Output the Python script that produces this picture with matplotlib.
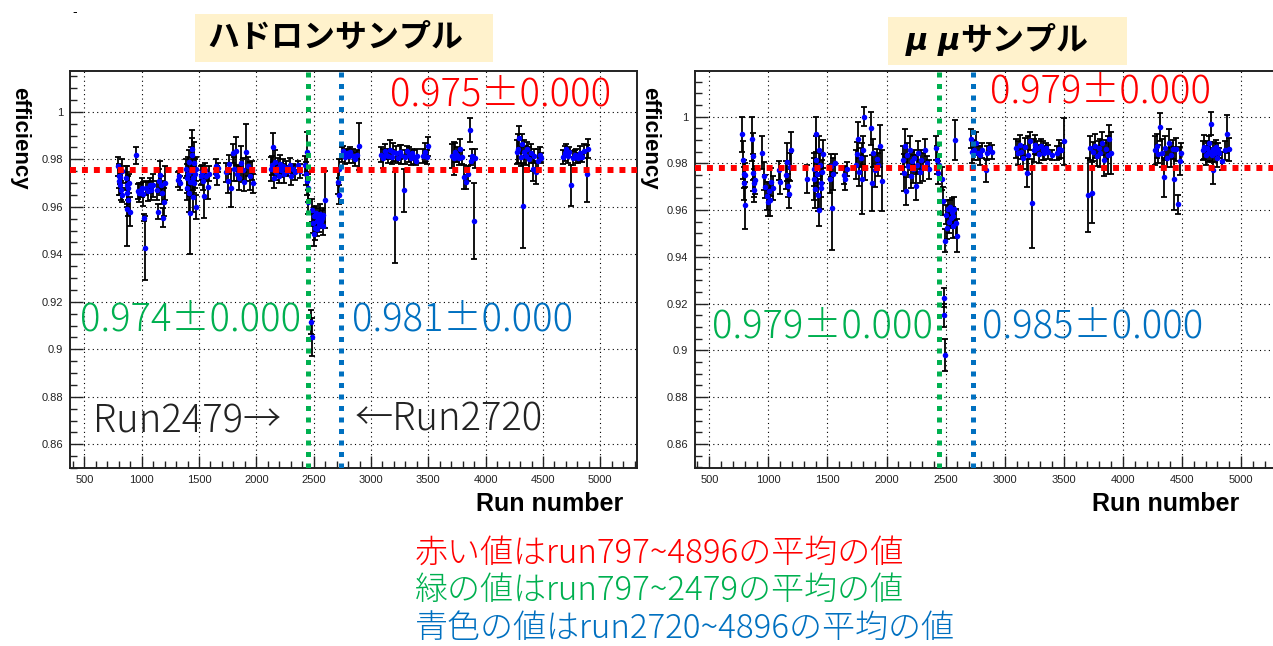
import numpy as np
import matplotlib
matplotlib.use("Agg")
import matplotlib.pyplot as plt
from matplotlib.ticker import MultipleLocator, FuncFormatter
from matplotlib.patches import Rectangle

# === DATA: hadron sample (run, efficiency, error) ===
had_run = [797, 800, 805, 810, 815, 820, 826, 830,
           862, 868, 872, 876, 880, 885, 890, 895, 950,
           965, 980, 995, 1005, 1015, 1020, 1025, 1040, 1055, 1070, 1085, 1095,
           1135, 1140, 1150, 1160, 1170, 1180, 1190, 1195, 1200,
           1315, 1322, 1330,
           1385, 1392, 1398, 1404, 1410, 1415, 1420, 1425, 1430, 1435, 1440, 1445, 1450, 1455, 1460, 1465, 1470, 1478,
           1515, 1525, 1535, 1545, 1555, 1565, 1575, 1590,
           1645, 1652, 1660, 1668,
           1735, 1750, 1765, 1780, 1795, 1805, 1820, 1835, 1850, 1865, 1880, 1895, 1910, 1925, 1945, 1960, 1975,
           2125, 2135, 2145, 2155, 2165, 2175, 2185, 2195, 2205, 2215, 2230, 2245, 2260, 2275, 2290, 2305, 2320, 2340, 2360, 2380,
           2425, 2432, 2438, 2444, 2448, 2455, 2478, 2482,
           2488, 2495, 2500, 2505, 2512, 2518, 2525, 2532, 2540, 2548, 2555, 2562, 2570, 2578, 2585, 2595,
           2715, 2720, 2725, 2745, 2760, 2775, 2790, 2805, 2820, 2840, 2860, 2875, 2895,
           3090, 3105, 3120, 3135, 3150, 3165, 3180, 3195, 3208, 3220, 3235, 3250, 3265, 3285, 3300, 3315, 3330, 3345, 3360, 3375, 3390, 3405,
           3455, 3470, 3485, 3500,
           3705, 3720, 3735, 3750, 3765, 3780, 3795, 3810, 3825, 3843, 3863, 3870, 3885, 3897, 3905,
           4270, 4285, 4295, 4305, 4315, 4325, 4335, 4350, 4365, 4380, 4395, 4410, 4425, 4440, 4455, 4470, 4485,
           4675, 4690, 4700, 4715, 4730, 4745, 4760, 4775, 4790, 4805, 4820, 4840, 4860, 4885, 4896]
had_eff = [0.977, 0.973, 0.971, 0.969, 0.9725, 0.967, 0.975, 0.965,
           0.972, 0.969, 0.966, 0.959, 0.963, 0.968, 0.970, 0.958, 0.9817,
           0.9665, 0.966, 0.967, 0.968, 0.9655, 0.9555, 0.9425, 0.968, 0.9665, 0.969, 0.967, 0.969,
           0.967, 0.958, 0.971, 0.9735, 0.969, 0.966, 0.9555, 0.962, 0.970,
           0.9715, 0.973, 0.970,
           0.976, 0.972, 0.968, 0.974, 0.979, 0.966, 0.9705, 0.9575, 0.975, 0.982, 0.9845, 0.972, 0.964, 0.9785, 0.970, 0.974, 0.960, 0.976,
           0.973, 0.9745, 0.971, 0.9645, 0.9755, 0.973, 0.9685, 0.974,
           0.974, 0.977, 0.973, 0.9765,
           0.9745, 0.971, 0.978, 0.968, 0.9825, 0.976, 0.9835, 0.974, 0.972, 0.9785, 0.9755, 0.9705, 0.983, 0.977, 0.973, 0.9755, 0.970,
           0.976, 0.9775, 0.985, 0.972, 0.979, 0.9745, 0.9765, 0.973, 0.978, 0.9755, 0.977, 0.974, 0.9765, 0.975, 0.9775, 0.973, 0.976, 0.9745, 0.9775, 0.975,
           0.9775, 0.974, 0.971, 0.983, 0.968, 0.962, 0.9115, 0.905,
           0.9585, 0.953, 0.9485, 0.956, 0.951, 0.9575, 0.954, 0.9505, 0.9555, 0.9525, 0.957, 0.954, 0.9555, 0.952, 0.9565, 0.963,
           0.9705, 0.965, 0.976, 0.982, 0.9835, 0.981, 0.9825, 0.9815, 0.983, 0.9815, 0.980, 0.982, 0.9855,
           0.982, 0.9805, 0.9835, 0.982, 0.9815, 0.984, 0.981, 0.983, 0.9555, 0.9825, 0.9805, 0.983, 0.982, 0.967, 0.981, 0.9835, 0.982, 0.9805, 0.9825, 0.981, 0.9795, 0.9815,
           0.9815, 0.983, 0.981, 0.9855,
           0.9815, 0.9805, 0.983, 0.982, 0.9805, 0.9845, 0.981, 0.9725, 0.9705, 0.974, 0.9925, 0.9795, 0.9815, 0.954, 0.9805,
           0.983, 0.9845, 0.989, 0.981, 0.9865, 0.9605, 0.983, 0.9815, 0.9845, 0.980, 0.9825, 0.976, 0.9815, 0.9745, 0.9795, 0.982, 0.9805,
           0.981, 0.9825, 0.9845, 0.9815, 0.983, 0.969, 0.9805, 0.982, 0.9815, 0.9805, 0.9825, 0.981, 0.9835, 0.974, 0.9845]
had_err = [0.004, 0.005, 0.006, 0.004, 0.003, 0.004, 0.005, 0.003,
           0.005, 0.008, 0.006, 0.0155, 0.007, 0.005, 0.004, 0.006, 0.0035,
           0.003, 0.004, 0.003, 0.004, 0.005, 0.0015, 0.0135, 0.003, 0.004, 0.003, 0.004, 0.005,
           0.004, 0.003, 0.005, 0.006, 0.004, 0.005, 0.004, 0.006, 0.007,
           0.003, 0.002, 0.003,
           0.004, 0.006, 0.005, 0.007, 0.005, 0.008, 0.006, 0.0175, 0.010, 0.007, 0.008, 0.005, 0.006, 0.009, 0.004, 0.006, 0.005, 0.005,
           0.004, 0.003, 0.004, 0.009, 0.003, 0.002, 0.005, 0.003,
           0.002, 0.003, 0.004, 0.002,
           0.004, 0.005, 0.004, 0.008, 0.004, 0.005, 0.006, 0.003, 0.005, 0.007, 0.005, 0.004, 0.012, 0.004, 0.006, 0.004, 0.004,
           0.005, 0.004, 0.006, 0.004, 0.005, 0.003, 0.004, 0.003, 0.004, 0.003, 0.003, 0.004, 0.003, 0.002, 0.003, 0.004, 0.002, 0.003, 0.002, 0.003,
           0.004, 0.005, 0.006, 0.0085, 0.006, 0.005, 0.005, 0.008,
           0.005, 0.004, 0.005, 0.004, 0.005, 0.003, 0.004, 0.003, 0.004, 0.003, 0.004, 0.003, 0.003, 0.004, 0.003, 0.012,
           0.005, 0.004, 0.004, 0.003, 0.002, 0.003, 0.002, 0.003, 0.002, 0.003, 0.003, 0.002, 0.010,
           0.003, 0.004, 0.003, 0.002, 0.003, 0.004, 0.003, 0.004, 0.019, 0.003, 0.002, 0.003, 0.004, 0.009, 0.003, 0.002, 0.003, 0.003, 0.002, 0.003, 0.002, 0.003,
           0.003, 0.004, 0.003, 0.004,
           0.005, 0.007, 0.004, 0.003, 0.003, 0.004, 0.003, 0.005, 0.003, 0.003, 0.005, 0.002, 0.003, 0.016, 0.004,
           0.005, 0.006, 0.005, 0.004, 0.004, 0.018, 0.005, 0.004, 0.003, 0.005, 0.004, 0.005, 0.003, 0.005, 0.005, 0.003, 0.002,
           0.003, 0.003, 0.002, 0.003, 0.002, 0.0085, 0.003, 0.002, 0.003, 0.002, 0.003, 0.002, 0.003, 0.012, 0.004]

# === DATA: mu-mu sample ===
mu_run = [780, 785, 790, 795, 800, 805,
          860, 866, 870, 875, 880, 885,
          950, 965, 975, 985, 995, 1005, 1015, 1025, 1035,
          1088, 1095, 1145, 1155, 1165, 1175, 1185, 1195, 1325,
          1382, 1388, 1394, 1400, 1406, 1412, 1418, 1424, 1430, 1436, 1442, 1448, 1455, 1460,
          1520, 1530, 1535, 1550, 1560, 1640, 1652, 1662,
          1740, 1750, 1760, 1770, 1780, 1790, 1800, 1812, 1820,
          1865, 1875, 1885, 1900, 1915, 1930, 1945, 1958,
          2135, 2145, 2155, 2165, 2175, 2185, 2195, 2205, 2215, 2225, 2235, 2245, 2255, 2265, 2280, 2295, 2310, 2325, 2340, 2360,
          2415, 2425, 2435, 2445,
          2470, 2478, 2485, 2488, 2492, 2497, 2505, 2512, 2520, 2528, 2535, 2542, 2550, 2558, 2566, 2574, 2582, 2588, 2595,
          2715, 2725, 2740, 2755, 2770, 2790, 2810, 2839, 2850, 2870, 2890,
          3095, 3110, 3125, 3140, 3155, 3170, 3185, 3200, 3215, 3230, 3245, 3260, 3275, 3290, 3305, 3320, 3335, 3350, 3370, 3400, 3440, 3460, 3480, 3498,
          3705, 3720, 3735, 3750, 3765, 3780, 3795, 3810, 3825, 3840, 3855, 3870, 3885, 3898,
          4270, 4285, 4300, 4315, 4330, 4345, 4360, 4375, 4390, 4405, 4420, 4435, 4450, 4463, 4480, 4495,
          4680, 4690, 4700, 4710, 4720, 4730, 4740, 4748, 4755, 4760, 4765, 4775, 4785, 4795, 4805, 4815, 4840, 4860, 4880, 4895]
mu_eff = [0.9925, 0.9815, 0.9755, 0.9715, 0.962, 0.975,
          0.9905, 0.983, 0.976, 0.9715, 0.9685, 0.973,
          0.9845, 0.9745, 0.970, 0.966, 0.9635, 0.968, 0.9645, 0.972, 0.9695,
          0.977, 0.972, 0.975, 0.9805, 0.9705, 0.967, 0.9785, 0.9855, 0.9735,
          0.9775, 0.9735, 0.969, 0.9815, 0.9925, 0.9755, 0.9665, 0.960, 0.9855, 0.9795, 0.9715, 0.9695, 0.9765, 0.984,
          0.9735, 0.979, 0.961, 0.9755, 0.980, 0.975, 0.9735, 0.9775,
          0.9795, 0.984, 0.9905, 0.9765, 0.9825, 0.9735, 0.9855, 1.000, 0.978,
          0.995, 0.9715, 0.9845, 0.977, 0.982, 0.9795, 0.9875, 0.9725,
          0.9815, 0.976, 0.9875, 0.968, 0.9835, 0.979, 0.9855, 0.9745, 0.981, 0.9775, 0.9825, 0.9705, 0.9795, 0.9845, 0.9765, 0.9815, 0.9785, 0.9855, 0.980, 0.9775,
          0.9865, 0.9815, 0.976, 0.9795,
          0.9735, 0.964, 0.9225, 0.915, 0.898, 0.947, 0.958, 0.9525, 0.9605, 0.955, 0.9615, 0.9565, 0.959, 0.953, 0.9575, 0.9605, 0.990, 0.9545, 0.949,
          0.9905, 0.985, 0.9855, 0.9885, 0.9845, 0.9835, 0.9855, 0.977, 0.9845, 0.9865, 0.985,
          0.9865, 0.9845, 0.988, 0.985, 0.9825, 0.987, 0.976, 0.9835, 0.9895, 0.963, 0.9855, 0.988, 0.9865, 0.984, 0.9875, 0.9855, 0.9845, 0.9865, 0.985, 0.9835, 0.9845, 0.986, 0.9855, 0.9895,
          0.9665, 0.9865, 0.9675, 0.985, 0.9875, 0.983, 0.9865, 0.9845, 0.9885, 0.9815, 0.986, 0.9835, 0.9905, 0.9845,
          0.9855, 0.9875, 0.984, 0.9955, 0.9845, 0.974, 0.9865, 0.9825, 0.9885, 0.9835, 0.986, 0.9735, 0.986, 0.9625, 0.981, 0.9845,
          0.9855, 0.987, 0.9835, 0.9865, 0.9845, 0.9885, 0.985, 0.997, 0.9835, 0.977, 0.986, 0.9845, 0.987, 0.9825, 0.9855, 0.9845, 0.981, 0.9855, 0.9925, 0.986]
mu_err = [0.0075, 0.008, 0.006, 0.007, 0.010, 0.005,
          0.0095, 0.010, 0.008, 0.006, 0.005, 0.006,
          0.007, 0.006, 0.005, 0.006, 0.006, 0.004, 0.007, 0.006, 0.005,
          0.004, 0.005, 0.006, 0.008, 0.005, 0.006, 0.006, 0.008, 0.006,
          0.007, 0.009, 0.008, 0.010, 0.0075, 0.006, 0.007, 0.007, 0.006, 0.005, 0.006, 0.009, 0.005, 0.006,
          0.006, 0.005, 0.018, 0.007, 0.004, 0.004, 0.005, 0.003,
          0.006, 0.005, 0.007, 0.006, 0.004, 0.015, 0.006, 0.004, 0.005,
          0.007, 0.012, 0.006, 0.007, 0.004, 0.005, 0.009, 0.013,
          0.006, 0.008, 0.007, 0.006, 0.005, 0.004, 0.006, 0.005, 0.004, 0.006, 0.003, 0.006, 0.004, 0.005, 0.005, 0.004, 0.006, 0.005, 0.003, 0.004,
          0.005, 0.006, 0.005, 0.004,
          0.005, 0.006, 0.004, 0.005, 0.007, 0.005, 0.004, 0.005, 0.004, 0.005, 0.003, 0.004, 0.006, 0.005, 0.004, 0.005, 0.0085, 0.006, 0.007,
          0.004, 0.005, 0.004, 0.005, 0.003, 0.004, 0.003, 0.005, 0.003, 0.002, 0.003,
          0.004, 0.005, 0.004, 0.003, 0.005, 0.004, 0.006, 0.008, 0.004, 0.019, 0.005, 0.004, 0.003, 0.004, 0.003, 0.004, 0.003, 0.002, 0.003, 0.002, 0.003, 0.004, 0.003, 0.010,
          0.016, 0.005, 0.013, 0.004, 0.005, 0.004, 0.003, 0.006, 0.005, 0.007, 0.004, 0.008, 0.006, 0.009,
          0.006, 0.005, 0.004, 0.006, 0.006, 0.0085, 0.005, 0.004, 0.006, 0.005, 0.004, 0.0135, 0.005, 0.004, 0.006, 0.004,
          0.004, 0.005, 0.004, 0.003, 0.004, 0.003, 0.004, 0.005, 0.003, 0.006, 0.003, 0.004, 0.003, 0.004, 0.003, 0.002, 0.004, 0.004, 0.008, 0.005]

# averages and run boundaries (shown as dotted lines)
had_mean, mu_mean = 0.9755, 0.978
had_cuts = (2453, 2737)
mu_cuts = (2447, 2730)
had_texts = ["0.975\u00b10.000", "0.974\u00b10.000", "0.981\u00b10.000"]
mu_texts = ["0.979\u00b10.000", "0.979\u00b10.000", "0.985\u00b10.000"]
notes = ["赤い値はrun797~4896の平均の値",
         "緑の値はrun797~2479の平均の値",
         "青色の値はrun2720~4896の平均の値"]

RED, GREEN, BLUE = "#ff0000", "#00b050", "#0070c0"
JP = ["Noto Sans CJK JP", "DejaVu Sans"]

plt.rcParams["font.family"] = ["Liberation Sans", "Noto Sans CJK JP", "DejaVu Sans"]

W, H = 1273, 646
fig = plt.figure(figsize=(W / 100, H / 100), dpi=100)


def fx(x):
    return x / W


def fy(y):
    return 1 - y / H


def draw_panel(left, right, top, bottom, run, eff, err, xlim, ylim, mean, cuts):
    ax = fig.add_axes([fx(left), fy(bottom), (right - left) / W, (bottom - top) / H])
    ax.errorbar(run, eff, yerr=err, fmt="none", ecolor="black", elinewidth=1.3,
                capsize=2.0, capthick=1.3, zorder=3)
    ax.plot(run, eff, "o", color="#0000ff", ms=4.0, mec="none", zorder=4)
    ax.axhline(mean, color=RED, lw=4.3, ls=(0, (1, 1)), zorder=5)
    ax.axvline(cuts[0], color=GREEN, lw=3.6, ls=(0, (1, 1.3)), zorder=5)
    ax.axvline(cuts[1], color=BLUE, lw=3.6, ls=(0, (1, 1.3)), zorder=5)
    ax.set_xlim(*xlim)
    ax.set_ylim(*ylim)
    ax.xaxis.set_major_locator(MultipleLocator(500))
    ax.xaxis.set_minor_locator(MultipleLocator(100))
    ax.yaxis.set_major_locator(MultipleLocator(0.02))
    ax.yaxis.set_minor_locator(MultipleLocator(0.005))
    ax.yaxis.set_major_formatter(FuncFormatter(lambda v, p: f"{round(v, 3):g}"))
    ax.grid(True, which="major", color="black", ls=(0, (1, 3)), lw=0.8)
    ax.tick_params(which="both", direction="in", labelsize=8, colors="#222222", pad=5)
    ax.tick_params(which="major", length=9, width=1.0)
    ax.tick_params(which="minor", length=5, width=1.0)
    for s in ax.spines.values():
        s.set_linewidth(1.4)
        s.set_color("#222222")
    return ax


ax1 = draw_panel(70, 637, 71, 468, had_run, had_eff, had_err,
                 (375, 5320), (0.850, 1.0172), had_mean, had_cuts)
ax2 = draw_panel(695, 1278, 71, 468, mu_run, mu_eff, mu_err,
                 (379, 5312), (0.8497, 1.0195), mu_mean, mu_cuts)

# axis titles
for x in (20, 650):
    fig.text(fx(x), fy(138), "efficiency", rotation=270, ha="center", va="center",
             fontsize=16, fontweight="bold", family="Liberation Sans")
for x in (550, 1166):
    fig.text(fx(x), fy(504), "Run number", ha="center", va="center",
             fontsize=18, fontweight="bold", family="Liberation Sans")

# panel titles on yellow boxes
fig.patches.append(Rectangle((fx(195), fy(62)), 298 / W, 48 / H, transform=fig.transFigure,
                             facecolor="#fff2cc", edgecolor="none", zorder=0))
fig.patches.append(Rectangle((fx(888), fy(65)), 239 / W, 48 / H, transform=fig.transFigure,
                             facecolor="#fff2cc", edgecolor="none", zorder=0))
fig.text(fx(335), fy(38), "ハドロンサンプル", ha="center", va="center",
         fontsize=23, fontweight="bold", family=JP)
fig.text(fx(906), fy(42), "\u03bc \u03bc", ha="left", va="center",
         fontsize=22, fontweight="bold", style="italic", family="DejaVu Sans")
fig.text(fx(960), fy(41), "サンプル", ha="left", va="center",
         fontsize=23, fontweight="bold", family=JP)
fig.text(fx(75), fy(12), "-", ha="center", va="center", fontsize=10)

# averages
fs = 27.5
kw = dict(fontsize=fs, family=JP, fontweight="light", va="center")
fig.text(fx(390), fy(95), had_texts[0], color=RED, **kw)
fig.text(fx(80), fy(320), had_texts[1], color=GREEN, **kw)
fig.text(fx(352), fy(320), had_texts[2], color=BLUE, **kw)
fig.text(fx(990), fy(92), mu_texts[0], color=RED, **kw)
fig.text(fx(712), fy(327), mu_texts[1], color=GREEN, **kw)
fig.text(fx(982), fy(327), mu_texts[2], color=BLUE, **kw)
fig.text(fx(93), fy(422), "Run2479\u2192", color="#222222", **kw)
fig.text(fx(355), fy(420), "\u2190Run2720", color="#222222", **kw)

# notes at the bottom
for txt, col, y in zip(notes, (RED, GREEN, BLUE), (553, 591, 629)):
    fig.text(fx(415), fy(y), txt, color=col, fontsize=23.8, family=JP,
             fontweight="light", va="center")

fig.savefig("out.png", dpi=100)
